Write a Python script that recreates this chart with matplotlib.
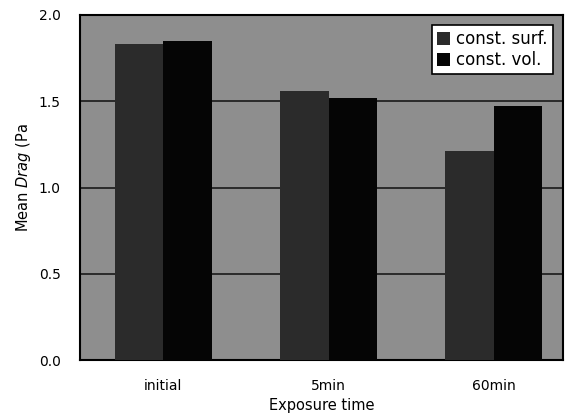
import matplotlib
matplotlib.use("Agg")
import matplotlib.pyplot as plt
import numpy as np

categories = ["initial", "5min", "60min"]
const_surf = [1.83, 1.56, 1.21]
const_vol = [1.85, 1.52, 1.47]
series_labels = ["const. surf.", "const. vol."]
yticks = [0.0, 0.5, 1.0, 1.5, 2.0]
ytick_labels = ["0.0", "0.5", "1.0", "1.5", "2.0"]

plt.rcParams['font.family'] = ['DejaVu Sans']
plt.rcParams['mathtext.fontset'] = 'dejavusans'

fig = plt.figure(figsize=(5.65, 4.16), dpi=100)
ax = fig.add_axes([80/565, 1 - 360/416, 483/565, 345/416])
ax.set_facecolor('#8e8e8e')

x = np.arange(len(categories))
w = 0.295
ax.bar(x - w/2, const_surf, w, color='#2b2b2b', label=series_labels[0], zorder=3)
ax.bar(x + w/2, const_vol, w, color='#050505', label=series_labels[1], zorder=3)

for yv in yticks[1:-1]:
    ax.axhline(yv, color='#1a1a1a', lw=1.2, zorder=2)

ax.set_ylim(0, 2.0)
ax.set_xlim(-0.505, 2.42)
ax.set_yticks(yticks)
ax.set_yticklabels(ytick_labels, fontsize=10)
ax.set_xticks(x)
ax.set_xticklabels(categories, fontsize=10)
ax.tick_params(length=0, pad=14, axis='y')
ax.tick_params(length=0, pad=14, axis='x')
for s in ax.spines.values():
    s.set_color('black')
    s.set_linewidth(1.5)

ax.set_ylabel("Mean $\\mathit{Drag}$ (Pa", fontsize=10.5)
ax.yaxis.set_label_coords(-0.097, 0.53)
ax.set_xlabel("Exposure time", fontsize=10.5, labelpad=3)

leg = ax.legend(loc='upper right', frameon=True, fancybox=False, fontsize=12,
                handlelength=0.8, handleheight=0.8, handletextpad=0.4,
                borderpad=0.3, labelspacing=0.2, borderaxespad=0.6)
leg.get_frame().set_edgecolor('black')
leg.get_frame().set_linewidth(1.2)
leg.get_frame().set_facecolor('white')
leg.get_frame().set_alpha(1)

fig.savefig("out.png", dpi=100)
